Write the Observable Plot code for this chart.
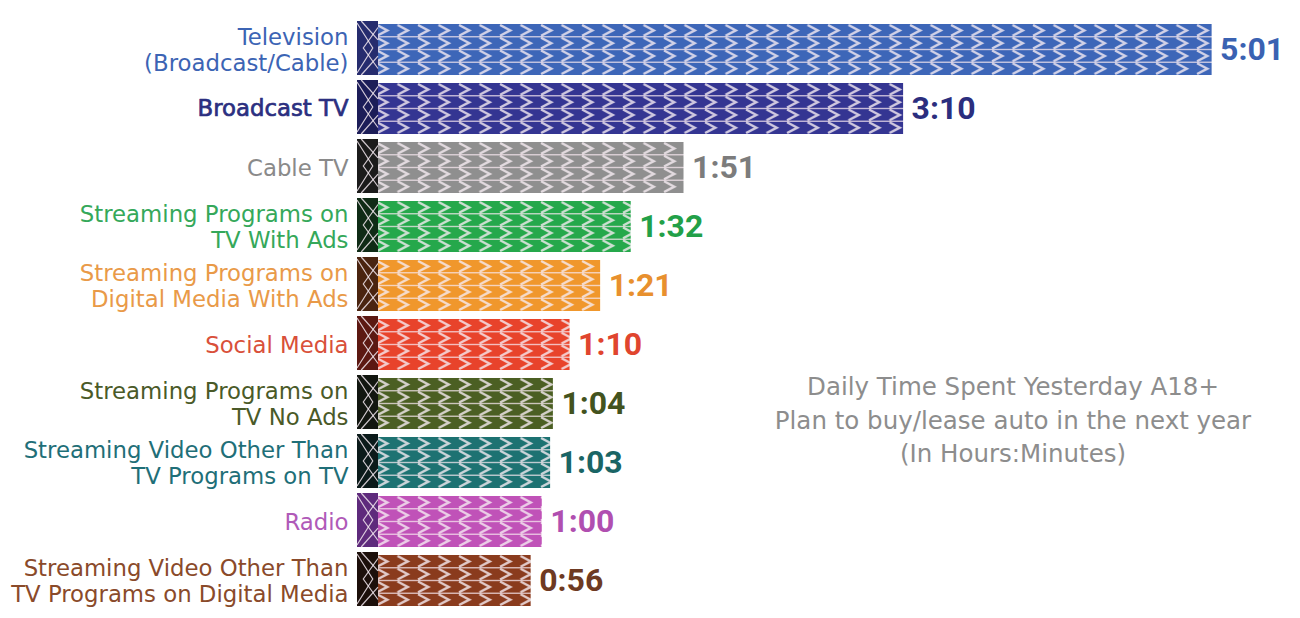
<!DOCTYPE html>
<html>
<head>
<meta charset="utf-8">
<script src="https://cdn.jsdelivr.net/npm/d3@7"></script>
<script src="https://cdn.jsdelivr.net/npm/@observablehq/plot@0.6"></script>
<style>
  html, body { margin: 0; padding: 0; background: #ffffff; }
  #wrap { position: relative; width: 1300px; height: 618px; overflow: hidden; }
  #note {
    position: absolute; left: 735px; top: 370px; width: 556px;
    text-align: center; font-family: "DejaVu Sans", sans-serif;
    font-size: 24.5px; line-height: 33.5px; color: #8d8d8d;
  }
</style>
</head>
<body>
<div id="wrap"><div id="note"></div></div>
<script>
// ---- data ----
const categories = [
  "Television (Broadcast/Cable)",
  "Broadcast TV",
  "Cable TV",
  "Streaming Programs on TV With Ads",
  "Streaming Programs on Digital Media With Ads",
  "Social Media",
  "Streaming Programs on TV No Ads",
  "Streaming Video Other Than TV Programs on TV",
  "Radio",
  "Streaming Video Other Than TV Programs on Digital Media"
];
const labelLines = [
  "Television\n(Broadcast/Cable)",
  "Broadcast TV",
  "Cable TV",
  "Streaming Programs on\nTV With Ads",
  "Streaming Programs on\nDigital Media With Ads",
  "Social Media",
  "Streaming Programs on\nTV No Ads",
  "Streaming Video Other Than\nTV Programs on TV",
  "Radio",
  "Streaming Video Other Than\nTV Programs on Digital Media"
];
const minutes = [301, 190, 111, 92, 81, 70, 64, 63, 60, 56];
const valueLabels = ["5:01", "3:10", "1:51", "1:32", "1:21", "1:10", "1:04", "1:03", "1:00", "0:56"];
const barColors = ["#3d66b8", "#343592", "#8f8f8f", "#25a84b", "#f0972c", "#e8432b", "#4b5f23", "#1d7272", "#c052b8", "#8a3b1d"];
const capColors = ["#262c6e", "#1c1d58", "#1b1b1b", "#0f2b16", "#4a2410", "#5c1812", "#121610", "#0b1a1a", "#5e2a7c", "#1c0f0a"];
const labelColors = ["#3c64b4", "#2b2f80", "#8a8a8a", "#35a85a", "#e99a48", "#d9503a", "#4a5a28", "#1f6f78", "#b05ab8", "#8a4a2a"];
const valueColors = ["#3a62b2", "#2b2e7e", "#7c7c7c", "#22a048", "#e8902e", "#e0452e", "#43531e", "#1a6565", "#b04fb0", "#6e3a22"];
const noteLines = ["Daily Time Spent Yesterday A18+", "Plan to buy/lease auto in the next year", "(In Hours:Minutes)"];

const data = categories.map((c, i) => ({
  category: c, label: labelLines[i], minutes: minutes[i], text: valueLabels[i],
  color: barColors[i], cap: capColors[i], labelColor: labelColors[i], valueColor: valueColors[i]
}));

const labelFont = "DejaVu Sans, sans-serif";

const chart = Plot.plot({
  width: 1300, height: 618,
  marginLeft: 375, marginRight: 5, marginTop: 12, marginBottom: 0,
  style: { background: "#ffffff" },
  x: { domain: [0, 331], axis: null },
  y: { domain: categories, axis: null, padding: 0.14 },
  marks: [
    Plot.barX(data, { y: "category", x: "minutes", fill: "color", className: "tread" }),
    Plot.barX(data, { y: "category", x1: 0, x2: 0, fill: "cap", insetLeft: -18, insetRight: -3, insetTop: -3, className: "capw" }),
    Plot.text(data.filter(d => d.category !== "Broadcast TV"), {
      y: "category", x: 0, dx: -27, text: "label", textAnchor: "end", lineAnchor: "middle",
      fill: "labelColor", fontSize: 22.8, lineHeight: 1.12, fontFamily: labelFont
    }),
    Plot.text(data.filter(d => d.category === "Broadcast TV"), {
      y: "category", x: 0, dx: -27, text: "label", textAnchor: "end", lineAnchor: "middle",
      fill: "labelColor", stroke: "labelColor", strokeWidth: 0.7, fontSize: 22.8, fontFamily: labelFont
    }),
    Plot.text(data, {
      y: "category", x: "minutes", dx: 8, text: "text", textAnchor: "start", lineAnchor: "middle",
      fill: "valueColor", fontSize: 32, fontWeight: 700, fontFamily: "Roboto, sans-serif"
    })
  ]
});

// ---- tread patterns ----
const NS = "http://www.w3.org/2000/svg";
const defs = document.createElementNS(NS, "defs");
chart.insertBefore(defs, chart.firstChild);
function el(name, attrs, parent) {
  const e = document.createElementNS(NS, name);
  for (const k in attrs) e.setAttribute(k, attrs[k]);
  if (parent) parent.appendChild(e);
  return e;
}
const P = 20.5;
chart.querySelectorAll("g.tread rect").forEach((r, i) => {
  const x = +r.getAttribute("x"), y = +r.getAttribute("y"), h = +r.getAttribute("height");
  const color = r.getAttribute("fill");
  const pat = el("pattern", { id: "tread" + i, patternUnits: "userSpaceOnUse", x, y, width: P, height: h }, defs);
  el("rect", { width: P, height: h, fill: color }, pat);
  const rh = h / 4;
  for (let k = 0; k < 4; k++) {
    const ry = k * rh;
    el("path", {
      d: `M${P * 0.1},${ry + 1} L${P * 0.6},${ry + rh / 2} L${P * 0.1},${ry + rh - 1}`,
      fill: "none", stroke: "#f6ecf2", "stroke-width": 2.4, "stroke-opacity": 0.8
    }, pat);
    if (k > 0) el("line", { x1: 0, x2: P, y1: ry, y2: ry, stroke: "#f6e6ef", "stroke-width": 1.4, "stroke-opacity": 0.75 }, pat);
  }
  r.setAttribute("fill", `url(#tread${i})`);
});
chart.querySelectorAll("g.capw rect").forEach((r, i) => {
  const x = +r.getAttribute("x"), y = +r.getAttribute("y"), w = +r.getAttribute("width"), h = +r.getAttribute("height");
  const g = r.parentNode;
  const mk = (d) => el("path", { d, fill: "none", stroke: "#f2e8ee", "stroke-width": 1.2, "stroke-opacity": 0.85 }, g);
  mk(`M${x},${y + 2} L${x + w * 0.75},${y + h / 2} L${x},${y + h - 2}`);
  mk(`M${x + w},${y + h * 0.12} L${x + w * 0.3},${y + h / 2} L${x + w},${y + h * 0.88}`);
  mk(`M${x + w * 0.2},${y} L${x + w},${y + h * 0.35}`);
  mk(`M${x + w * 0.2},${y + h} L${x + w},${y + h * 0.65}`);
});

document.getElementById("wrap").insertBefore(chart, document.getElementById("note"));
document.getElementById("note").innerHTML = noteLines.map(t => `<div>${t}</div>`).join("");
</script>
</body>
</html>
